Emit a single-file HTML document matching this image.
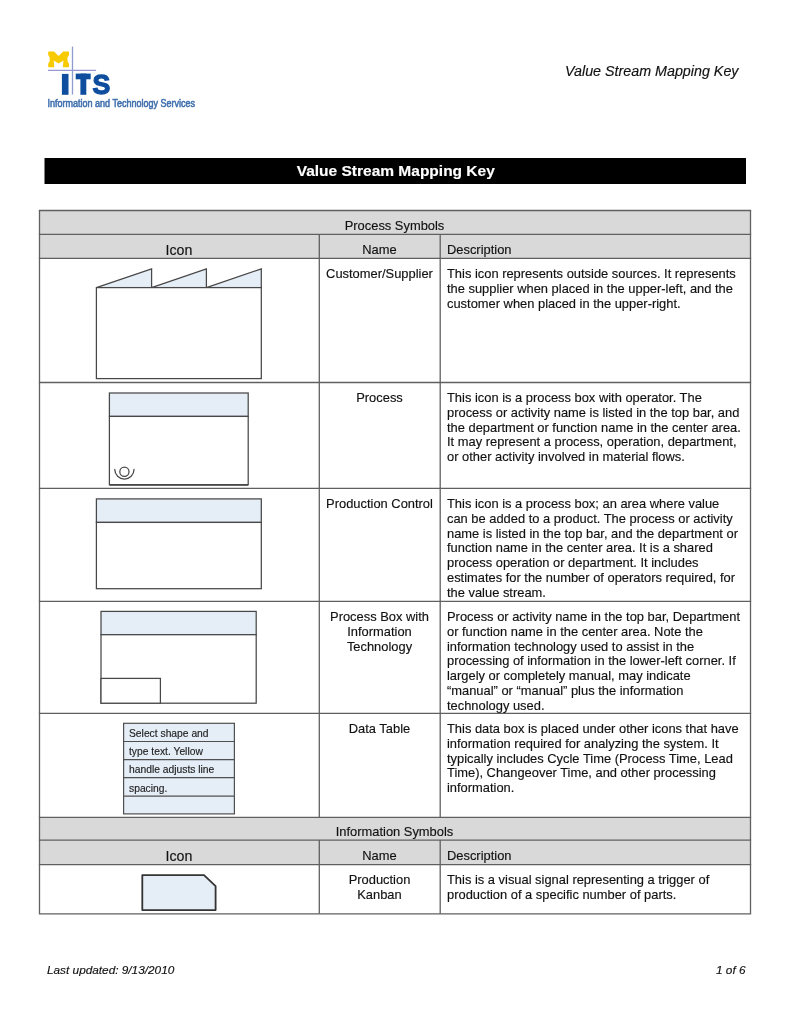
<!DOCTYPE html>
<html><head><meta charset="utf-8">
<style>
html,body{margin:0;padding:0;background:#fff;}
body{width:791px;height:1024px;position:relative;overflow:hidden;font-family:"Liberation Sans",sans-serif;color:#111;}
svg.bg{position:absolute;left:0;top:0;will-change:transform;}
.t{position:absolute;white-space:nowrap;will-change:transform;-webkit-text-stroke:0.15px currentColor;font-size:12.9px;line-height:14.75px;}
.c{text-align:center;}
</style></head><body>
<svg class="bg" width="791" height="1024" viewBox="0 0 791 1024">
  <!-- logo -->
  <path d="M48.2,52.3 Q48.2,51.6 48.9,51.6 H54 L58.6,56.0 L63.2,51.6 H68.3 Q69,51.6 69,52.3 V55 L67.5,57.6 V61.2 L69,63.8 V66.6 Q69,67.2 68.3,67.2 H63.2 Q62.8,67.2 62.9,66.6 L63.5,60.6 L58.6,63.6 L53.7,60.6 L54.3,66.6 Q54.4,67.2 54,67.2 H48.9 Q48.2,67.2 48.2,66.6 V63.8 L49.7,61.2 V57.6 L48.2,55 Z" fill="#f8ca00"/>
  <rect x="61.9" y="73.9" width="6.6" height="20.9" fill="#0f4e9e"/>
  <rect x="75.7" y="73.6" width="15" height="5.7" fill="#0f4e9e"/>
  <rect x="80.4" y="73.6" width="5.9" height="21.2" fill="#0f4e9e"/>
  <text x="92.6" y="94.4" font-family="Liberation Sans" font-weight="bold" font-size="28.5" fill="#0f4e9e" stroke="#0f4e9e" stroke-width="1.3" textLength="17.8" lengthAdjust="spacingAndGlyphs">S</text>
  <line x1="72.5" y1="46.6" x2="72.5" y2="94.6" stroke="#909ccc" stroke-width="1.3"/>
  <line x1="48" y1="70.4" x2="96.1" y2="70.4" stroke="#9a98d4" stroke-width="1.3"/>
  <text x="47.6" y="106.9" font-family="Liberation Sans" font-size="10.2" fill="#3f70ae" stroke="#3f70ae" stroke-width="0.55" textLength="147.3" lengthAdjust="spacingAndGlyphs">Information and Technology Services</text>

  <!-- title bar -->
  <rect x="44.5" y="158" width="701.5" height="26" fill="#000"/>

  <!-- header fills -->
  <rect x="39.5" y="210.5" width="711.0" height="47.9" fill="#d9d9d9"/>
  <rect x="39.5" y="817.4" width="711.0" height="47.2" fill="#d9d9d9"/>
  <!-- table lines -->
  <g stroke="#606060" stroke-width="1.3" fill="none">
    <line x1="38.85" y1="210.5" x2="751.15" y2="210.5"/>
    <line x1="38.85" y1="234.3" x2="751.15" y2="234.3"/>
    <line x1="38.85" y1="258.4" x2="751.15" y2="258.4"/>
    <line x1="38.85" y1="382.5" x2="751.15" y2="382.5"/>
    <line x1="38.85" y1="488.4" x2="751.15" y2="488.4"/>
    <line x1="38.85" y1="601.4" x2="751.15" y2="601.4"/>
    <line x1="38.85" y1="713.4" x2="751.15" y2="713.4"/>
    <line x1="38.85" y1="817.4" x2="751.15" y2="817.4"/>
    <line x1="38.85" y1="840.1" x2="751.15" y2="840.1"/>
    <line x1="38.85" y1="864.6" x2="751.15" y2="864.6"/>
    <line x1="38.85" y1="913.8" x2="751.15" y2="913.8"/>
    <line x1="39.5" y1="210.5" x2="39.5" y2="913.8"/>
    <line x1="750.5" y1="210.5" x2="750.5" y2="913.8"/>
    <line x1="319.3" y1="234.3" x2="319.3" y2="817.4"/>
    <line x1="319.3" y1="840.1" x2="319.3" y2="913.8"/>
    <line x1="440.2" y1="234.3" x2="440.2" y2="817.4"/>
    <line x1="440.2" y1="840.1" x2="440.2" y2="913.8"/>
  </g>

  <!-- icons -->
  <g stroke="#484848" stroke-width="1.25" stroke-linejoin="miter">
    <!-- factory -->
    <path d="M96.4,287.6 L151.6,268.8 V287.6 Z M151.6,287.6 L206.4,268.8 V287.6 Z M206.4,287.6 L261.3,268.8 V287.6 Z" fill="#e5edf7"/>
    <rect x="96.4" y="287.6" width="164.9" height="91" fill="#fff"/>
    <!-- process -->
    <rect x="109.4" y="393" width="138.8" height="23.4" fill="#e5edf7"/>
    <rect x="109.4" y="416.4" width="138.8" height="68.3" fill="#fff"/>
    <line x1="109.4" y1="484.9" x2="248.2" y2="484.9" stroke-width="1.7"/>
    <circle cx="124.4" cy="471.8" r="4.6" fill="none"/>
    <path d="M114.8,469.4 A9.6,9.6 0 0 0 134,469.4" fill="none" stroke-linecap="round"/>
    <!-- production control -->
    <rect x="96.4" y="498.9" width="164.9" height="23.5" fill="#e5edf7"/>
    <rect x="96.4" y="522.4" width="164.9" height="66.3" fill="#fff"/>
    <!-- process box with IT -->
    <rect x="101" y="611.4" width="155.2" height="23.3" fill="#e5edf7"/>
    <rect x="101" y="634.7" width="155.2" height="68.5" fill="#fff"/>
    <rect x="101" y="678.4" width="59.4" height="24.8" fill="#fff"/>
  </g>
  <g stroke="#505050" stroke-width="1.2">
    <rect x="123.6" y="723.3" width="110.8" height="90.6" fill="#e5edf7"/>
    <line x1="123.6" y1="741.5" x2="234.4" y2="741.5"/>
    <line x1="123.6" y1="759.6" x2="234.4" y2="759.6"/>
    <line x1="123.6" y1="777.6" x2="234.4" y2="777.6"/>
    <line x1="123.6" y1="796.2" x2="234.4" y2="796.2"/>
  </g>
  <path d="M142.3,875.1 L204,875.1 L215.6,886.2 L215.6,910.1 L142.3,910.1 Z" fill="#e5edf7" stroke="#333" stroke-width="1.8" stroke-linejoin="round"/>
</svg>

<!-- header -->
<div class="t" style="left:564.8px;top:61.6px;font-size:14.3px;line-height:18px;font-style:italic;">Value Stream Mapping Key</div>
<div class="t c" style="left:44.5px;width:701.5px;top:160.5px;font-size:15.5px;line-height:20px;font-weight:bold;color:#fff;">Value Stream Mapping Key</div>

<!-- table headers -->
<div class="t c" style="left:39.4px;width:711px;top:218.6px;">Process Symbols</div>
<div class="t c" style="left:39.4px;width:280px;top:241.5px;font-size:14.2px;line-height:17px;">Icon</div>
<div class="t c" style="left:319.3px;width:121px;top:242.6px;">Name</div>
<div class="t" style="left:447.3px;top:242.6px;">Description</div>

<!-- rows -->
<div class="t c" style="left:319.3px;width:121px;top:266.9px;">Customer/Supplier</div>
<div class="t" style="left:447.3px;top:266.9px;">This icon represents outside sources. It represents<br>the supplier when placed in the upper-left, and the<br>customer when placed in the upper-right.</div>

<div class="t c" style="left:319.3px;width:121px;top:390.8px;">Process</div>
<div class="t" style="left:447.3px;top:390.8px;">This icon is a process box with operator. The<br>process or activity name is listed in the top bar, and<br>the department or function name in the center area.<br>It may represent a process, operation, department,<br>or other activity involved in material flows.</div>

<div class="t c" style="left:319.3px;width:121px;top:497.3px;">Production Control</div>
<div class="t" style="left:447.3px;top:497.3px;">This icon is a process box; an area where value<br>can be added to a product. The process or activity<br>name is listed in the top bar, and the department or<br>function name in the center area. It is a shared<br>process operation or department. It includes<br>estimates for the number of operators required, for<br>the value stream.</div>

<div class="t c" style="left:319.3px;width:121px;top:609.5px;">Process Box with<br>Information<br>Technology</div>
<div class="t" style="left:447.3px;top:609.5px;">Process or activity name in the top bar, Department<br>or function name in the center area. Note the<br>information technology used to assist in the<br>processing of information in the lower-left corner. If<br>largely or completely manual, may indicate<br>&ldquo;manual&rdquo; or &ldquo;manual&rdquo; plus the information<br>technology used.</div>

<div class="t c" style="left:319.3px;width:121px;top:722.1px;">Data Table</div>
<div class="t" style="left:447.3px;top:722.1px;">This data box is placed under other icons that have<br>information required for analyzing the system. It<br>typically includes Cycle Time (Process Time, Lead<br>Time), Changeover Time, and other processing<br>information.</div>

<!-- data table icon text -->
<div class="t" style="left:129px;top:724.5px;font-size:10.3px;line-height:18.2px;color:#222;">Select shape and<br>type text. Yellow<br>handle adjusts line<br>spacing.</div>

<!-- info symbols -->
<div class="t c" style="left:39.4px;width:711px;top:825.2px;">Information Symbols</div>
<div class="t c" style="left:39.4px;width:280px;top:847.5px;font-size:14.2px;line-height:17px;">Icon</div>
<div class="t c" style="left:319.3px;width:121px;top:848.5px;">Name</div>
<div class="t" style="left:447.3px;top:848.5px;">Description</div>

<div class="t c" style="left:319.3px;width:121px;top:873.0px;">Production<br>Kanban</div>
<div class="t" style="left:447.3px;top:873.0px;">This is a visual signal representing a trigger of<br>production of a specific number of parts.</div>

<!-- footer -->
<div class="t" style="left:46.5px;top:963.2px;font-size:11.8px;line-height:14px;font-style:italic;">Last updated: 9/13/2010</div>
<div class="t" style="left:716.2px;top:963.2px;font-size:11.8px;line-height:14px;font-style:italic;">1 of 6</div>
</body></html>
